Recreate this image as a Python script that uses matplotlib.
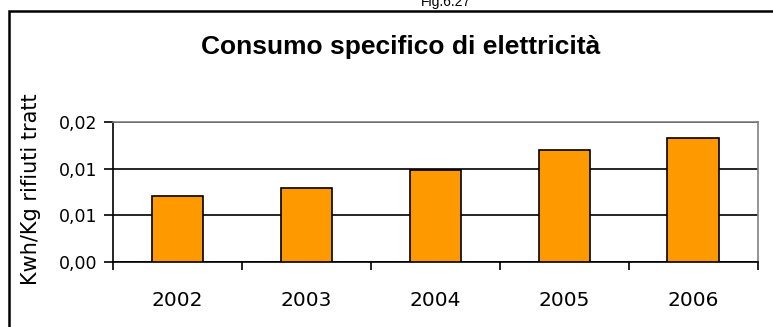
import matplotlib
matplotlib.use("Agg")
import matplotlib.pyplot as plt
from matplotlib.patches import Rectangle

years = ["2002", "2003", "2004", "2005", "2006"]
values = [0.0071, 0.0079, 0.0098, 0.0120, 0.0133]
y_ticks = [0.0, 0.005, 0.010, 0.015]
y_tick_labels = ["0,00", "0,01", "0,01", "0,02"]
title = "Consumo specifico di elettricità"
y_label = "Kwh/Kg rifiuti tratt"
fig_caption = "Fig.6.27"

W, H, DPI = 773, 327, 100
fig = plt.figure(figsize=(W / DPI, H / DPI), dpi=DPI)
fig.patch.set_facecolor("white")

# outer chart frame (cropped on the right and bottom)
frame = Rectangle((8.5 / W, -0.1), 1.2, (H - 11) / H + 0.1, transform=fig.transFigure,
                  fill=False, edgecolor="black", linewidth=1.8, zorder=0)
fig.patches.append(frame)

left, right = 113 / W, 757.7 / W
bottom, top = 1 - 261.7 / H, 1 - 122 / H
ax = fig.add_axes([left, bottom, right - left, top - bottom])

x = list(range(len(years)))
ax.bar(x, values, width=0.4, color="#FF9900", edgecolor="black", linewidth=1.2, zorder=3)

ax.set_xlim(-0.5, len(years) - 0.5)
ax.set_ylim(y_ticks[0], y_ticks[-1])
ax.set_yticks(y_ticks)
ax.set_yticklabels(y_tick_labels)
ax.yaxis.grid(True, color="black", linewidth=1.2, zorder=1)
ax.set_axisbelow(True)

# category boundary ticks (major) and centred labels (minor)
ax.set_xticks([i - 0.5 for i in range(len(years) + 1)])
ax.set_xticklabels([])
ax.set_xticks(x, years, minor=True)
ax.tick_params(axis="x", which="major", direction="out", length=6, width=1.2, color="black")
ax.tick_params(axis="x", which="minor", length=0, pad=21, labelsize=14.5)
ax.tick_params(axis="y", direction="out", length=6.5, width=1.2, pad=5, labelsize=12.5)

for s in ("left", "bottom"):
    ax.spines[s].set_color("black")
    ax.spines[s].set_linewidth(1.2)
for s in ("top", "right"):
    ax.spines[s].set_color("#808080")
    ax.spines[s].set_linewidth(1.2)

fig.text(31 / W, 1 - 189 / H, y_label, rotation=90, ha="center", va="center",
         fontsize=15, family="DejaVu Sans")

fig.text(401 / W, 1 - 47 / H, title, ha="center", va="center", fontsize=19,
         fontweight="bold", family=["Liberation Sans Narrow", "Liberation Sans"])

fig.text(446 / W, 1 - 6 / H, fig_caption, ha="center", va="baseline", fontsize=10,
         family=["Liberation Sans Narrow", "Liberation Sans"])

fig.savefig("out.png", dpi=DPI)
